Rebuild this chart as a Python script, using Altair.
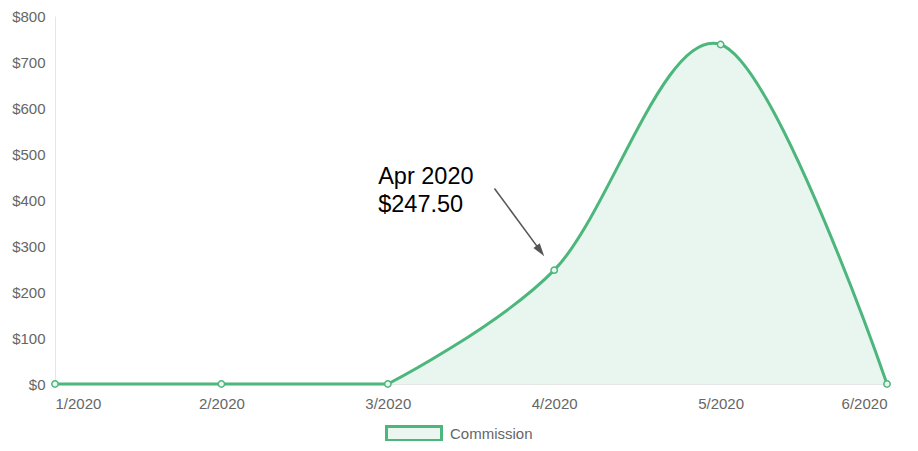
import json
import altair as alt
import pandas as pd

# ---- data ----
month_idx = [1, 2, 3, 4, 5, 6]
month_labels = ["1/2020", "2/2020", "3/2020", "4/2020", "5/2020", "6/2020"]
commission = [0, 0, 0, 247.5, 738, 0]
series_name = "Commission"
y_ticks = [0, 100, 200, 300, 400, 500, 600, 700, 800]

ann_text = ["Apr 2020", "$247.50"]
ann_month = [4]
ann_value = [247.5]
arrow_month = [3.641, 3.917]
arrow_value = [425, 289.4]

GREEN = "#4db67c"
LIGHT = "#eaf6ef"
FONT = "Liberation Sans"

df = pd.DataFrame({"m": month_idx, "label": month_labels, "v": commission,
                   "series": series_name})
# flat leading stretch and the curved part, drawn as separate pieces
line_df = pd.concat([df.iloc[:3].assign(seg="a"), df.iloc[2:].assign(seg="b")],
                    ignore_index=True)

x_enc = alt.X("m:Q", scale=alt.Scale(domain=[1, 6], nice=False, zero=False),
              axis=alt.Axis(values=month_idx, title=None,
                            labelExpr=json.dumps(month_labels) + "[datum.value - 1]",
                            labelPadding=12))
y_enc = alt.Y("v:Q", scale=alt.Scale(domain=[0, 800], nice=False),
              stack=None,
              axis=alt.Axis(values=y_ticks, title=None,
                            labelExpr="'$' + datum.value", labelPadding=10))

area = alt.Chart(line_df).mark_area(interpolate="cardinal", color=GREEN,
                                    opacity=0.12).encode(
    x=x_enc, y=y_enc, detail="seg:N")

line = alt.Chart(line_df).mark_line(interpolate="cardinal", strokeWidth=3).encode(
    x=x_enc, y=y_enc, detail="seg:N",
    color=alt.Color("series:N", scale=alt.Scale(range=[GREEN]),
                    legend=alt.Legend(title=None, orient="none", legendX=330,
                                      legendY=388.5,
                                      symbolType="M-1,-0.255L1,-0.255L1,0.255L-1,0.255Z",
                                      symbolSize=3025, symbolStrokeWidth=3,
                                      symbolFillColor=LIGHT,
                                      symbolStrokeColor=GREEN,
                                      labelFont=FONT, labelFontSize=15,
                                      labelColor="#666", labelOffset=7)))

points = alt.Chart(df).mark_point(filled=True, fill=LIGHT, stroke=GREEN,
                                  strokeWidth=1.5, size=40, opacity=1).encode(
    x=x_enc, y=y_enc)

ann_df = pd.DataFrame({"m": ann_month, "v": ann_value})
text = alt.Chart(ann_df).mark_text(text=ann_text, align="left",
                                   baseline="alphabetic", dx=-176, dy=-86,
                                   font=FONT, fontSize=23.5, lineHeight=27.5,
                                   color="black").encode(x="m:Q", y="v:Q")

arrow_df = pd.DataFrame({"m": [arrow_month[0]], "v": [arrow_value[0]],
                         "m2": [arrow_month[1]], "v2": [arrow_value[1]]})
arrow = alt.Chart(arrow_df).mark_rule(color="#555", strokeWidth=1.5).encode(
    x="m:Q", y="v:Q", x2="m2:Q", y2="v2:Q")
head = alt.Chart(arrow_df).mark_point(shape="M0,-1L0.6,1L-0.6,1Z", angle=144,
                                      size=169, filled=True, color="#555",
                                      opacity=1).encode(x="m2:Q", y="v2:Q")

chart = alt.layer(area, line, points, arrow, head, text).properties(
    width=832, height=368,
    autosize=alt.AutoSizeParams(type="none"),
    padding={"left": 47, "top": 8, "right": 23, "bottom": 57},
).configure_view(stroke=None).configure_axis(
    grid=False, ticks=False, tickSize=0, domainColor="#e6e6e6", domainWidth=1,
    labelColor="#666", labelFont=FONT, labelFontSize=15,
)

chart.save("out.html", embed_options={"renderer": "svg", "actions": False})
